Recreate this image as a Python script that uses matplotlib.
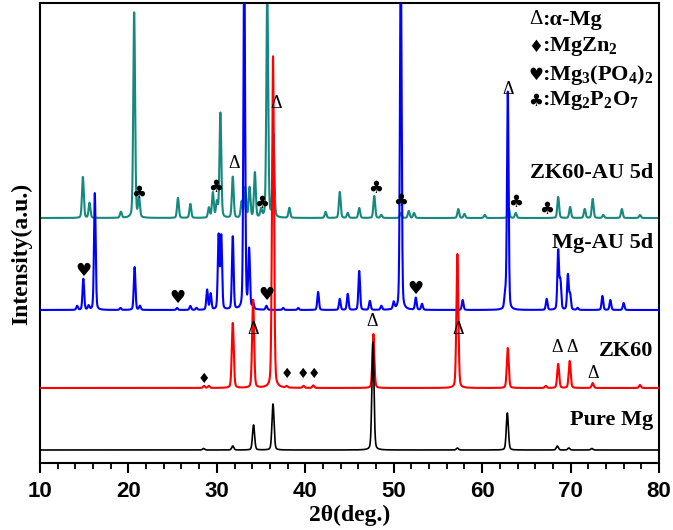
import numpy as np
import matplotlib
matplotlib.use("Agg")
import matplotlib.pyplot as plt

plt.rcParams['mathtext.fontset'] = 'custom'
plt.rcParams['mathtext.rm'] = 'Liberation Serif:bold'
plt.rcParams['mathtext.it'] = 'Liberation Serif:bold'
plt.rcParams['mathtext.bf'] = 'Liberation Serif:bold'

# ---- peak lists (2theta, height) ----
pure_pos = [28.5, 31.8, 34.15, 36.35, 47.65, 57.2, 62.85, 68.5, 69.8, 72.4]
pure_hgt = [1.5, 4, 25, 46, 108, 2, 37, 4, 2, 1.5]

zk60_pos = [28.55, 29.1, 31.8, 34.1, 36.35, 37.9, 39.8, 40.9, 47.7, 57.2,
            62.9, 67.2, 68.6, 69.9, 72.5, 77.85]
zk60_hgt = [2, 2, 65, 88, 332, 1.5, 2, 2.5, 54, 134,
            40, 2, 24, 27, 5, 3]

mgau_pos = [14.2, 14.9, 15.5, 16.2, 19.1, 20.7, 21.3, 25.5, 27.0, 27.7,
            28.9, 29.3, 30.2, 30.5, 31.8, 33.1, 33.65, 34.1, 35.6, 37.5,
            39.2, 41.45, 43.9, 44.8, 46.1, 47.3, 48.6, 50.0, 50.8, 52.5,
            53.2, 57.8, 62.6, 62.9, 67.3, 68.6, 68.85, 69.7, 69.95, 70.8,
            73.6, 74.5, 76.0]
mgau_hgt = [4, 31, 4, 117, 2, 43, 4, 2, 4, 2,
            20, 16, 74, 73, 73, 360, 59, 6, 4, 2,
            2, 18, 11, 16, 39, 9, 4, 7, 360, 12,
            6, 10, 14, 218, 11, 59, 28, 35, 15, 2,
            14, 10, 7]

zkau_pos = [14.85, 15.6, 19.15, 20.65, 21.2, 25.6, 27.0, 29.1, 29.55, 30.0,
            30.4, 31.8, 32.8, 33.2, 33.7, 34.3, 35.0, 35.7, 36.4, 38.2,
            42.3, 43.9, 44.8, 46.1, 47.8, 48.6, 50.8, 51.7, 52.3, 57.3,
            58.0, 60.3, 63.0, 63.8, 68.6, 69.95, 71.6, 72.5, 73.7, 75.8,
            77.85]
zkau_hgt = [41, 15, 6, 206, 19, 20, 14, 10, 25, 15,
            105, 41, 16, 30, 30, 45, 8, 230, 83, 10,
            6, 26, 5, 10, 22, 3, 5, 7, 5, 9,
            4, 3, 10, 5, 21, 11, 9, 19, 3, 9,
            3]

# vertical offsets of each pattern
offsets = {'Pure Mg': 13, 'ZK60': 75, 'Mg-AU 5d': 153, 'ZK60-AU 5d': 245}
name_y = {'Pure Mg': 43, 'ZK60': 112, 'Mg-AU 5d': 220, 'ZK60-AU 5d': 290}

# phase markers (2theta, intensity position)
alpha_mg = [(31.9, 300), (36.7, 360), (34.1, 134), (47.6, 141), (57.3, 133),
            (62.9, 373), (68.5, 115), (70.2, 115), (72.55, 90)]
mgzn2 = [(28.55, 84), (37.93, 89), (39.7, 89), (41.0, 89)]
mg3po42 = [(14.86, 192), (25.5, 165), (35.56, 168), (52.45, 174)]
mg2p2o7 = [(21.2, 270), (29.9, 276), (35.1, 260), (47.9, 275), (50.8, 262),
           (63.75, 261), (67.3, 254)]

tt = np.linspace(10, 80, 4001)


def pattern(pos, hgt, fwhm):
    y = np.zeros_like(tt)
    for p, h in zip(pos, hgt):
        d = (tt - p) / fwhm
        y += h * (0.75 * np.exp(-4 * np.log(2) * d**2) + 0.25 / (1 + 4 * d**2))
    return y


fig = plt.figure(figsize=(6.73, 5.30), dpi=100)
ax = fig.add_axes([40/673, 67/530, 619/673, 460/530])

ax.plot(tt, offsets['ZK60-AU 5d'] + pattern(zkau_pos, zkau_hgt, 0.24),
        color='#16897f', lw=1.5, zorder=2)
ax.plot(tt, offsets['Mg-AU 5d'] + pattern(mgau_pos, mgau_hgt, 0.22),
        color='#0000ff', lw=1.5, zorder=3)
ax.plot(tt, offsets['ZK60'] + pattern(zk60_pos, zk60_hgt, 0.26),
        color='#ff0000', lw=1.5, zorder=4)
ax.plot(tt, offsets['Pure Mg'] + pattern(pure_pos, pure_hgt, 0.28),
        color='black', lw=1.2, zorder=5)

ax.set_xlim(10, 80)
ax.set_ylim(0, 460)
ax.set_yticks([])
ax.set_xticks(np.arange(10, 81, 10))
ax.set_xticks(np.arange(10, 81, 2), minor=True)
ax.tick_params(axis='x', which='major', direction='out', length=7, width=1.5, pad=6)
ax.tick_params(axis='x', which='minor', direction='out', length=4, width=1.3)
for lab in ax.get_xticklabels():
    lab.set_fontfamily('Liberation Sans')
    lab.set_fontweight('bold')
    lab.set_fontsize(16)
for sp in ax.spines.values():
    sp.set_linewidth(1.5)

ax.set_xlabel('2θ(deg.)', fontfamily='Liberation Serif', fontweight='bold',
              fontsize=17, labelpad=2)
ax.set_ylabel('Intensity(a.u.)', fontfamily='Liberation Serif', fontweight='bold',
              fontsize=17)
ax.yaxis.set_label_coords(-0.012, 0.455)

# sample names
for name in offsets:
    ax.text(79.3, name_y[name], name, ha='right', va='center',
            fontfamily='Liberation Serif', fontweight='bold', fontsize=16, zorder=6)

# phase markers
for x, y in alpha_mg:
    ax.text(x, y, 'Δ', ha='center', va='center', fontfamily='Liberation Serif',
            fontsize=13, zorder=6)
for x, y in mgzn2:
    ax.text(x, y, '♦', ha='center', va='center', fontfamily='DejaVu Sans',
            fontsize=10, zorder=6)
for x, y in mg3po42:
    ax.text(x, y, '♥', ha='center', va='center', fontfamily='DejaVu Sans',
            fontsize=13, zorder=6)
for x, y in mg2p2o7:
    ax.text(x, y, '♣', ha='center', va='center', fontfamily='DejaVu Sans',
            fontsize=12, zorder=6)

# legend of phases
leg_sym = ['Δ', '♦', '♥', '♣']
leg_txt = [':α-Mg', r':$\mathrm{MgZn_2}$', r':$\mathrm{Mg_3(PO_4)_2}$',
           r':$\mathrm{Mg_2P_2O_7}$']
leg_y = [443, 416, 388, 362]
for s, t, y in zip(leg_sym, leg_txt, leg_y):
    if s == 'Δ':
        ax.text(66.05, y, s, ha='center', va='center', fontfamily='Liberation Serif',
                fontsize=15, zorder=6)
    else:
        ax.text(66.05, y, s, ha='center', va='center', fontfamily='DejaVu Sans',
                fontsize=12, zorder=6)
    ax.text(66.75, y, t, ha='left', va='center', fontfamily='Liberation Serif',
            fontweight='bold', fontsize=16, zorder=6)

fig.savefig('out.png', dpi=100)
